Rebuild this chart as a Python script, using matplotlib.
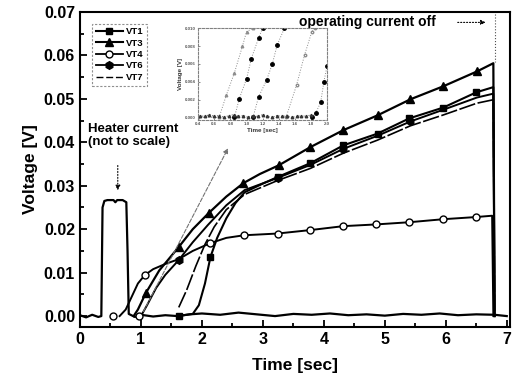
import matplotlib
matplotlib.use("Agg")
import matplotlib.pyplot as plt
from matplotlib.lines import Line2D

plt.rcParams["font.family"] = ["Liberation Sans", "DejaVu Sans"]
plt.rcParams["font.weight"] = "bold"

# ---- heater pulse + baseline trace ----
heater_t = [0.0, 0.1, 0.2, 0.3, 0.35, 0.37, 0.40, 0.45, 0.55, 0.58, 0.61, 0.70, 0.76, 0.78,
            0.80, 0.9, 1.0, 1.2, 1.4, 1.6, 1.8, 2.0, 2.3, 2.6, 2.9, 3.2, 3.5, 3.8, 4.1,
            4.4, 4.7, 5.0, 5.3, 5.6, 5.9, 6.2, 6.5, 6.8, 7.0]
heater_v = [0.0002, -0.0003, 0.0003, -0.0002, 0.0, 0.025, 0.0265, 0.0267, 0.0267, 0.0262,
            0.0267, 0.0267, 0.0262, 0.015, 0.0005, -0.0002, 0.0003, -0.0001, 0.0002, 0.0,
            0.0004, 0.0006, 0.0003, 0.0008, 0.0004, 0.0, 0.0005, 0.0003, 0.0006, 0.0002,
            0.0004, 0.0001, 0.0005, 0.0003, 0.0006, 0.0002, 0.0004, 0.0003, 0.0]

# ---- thermocouple traces (line points) ----
vt3_t = [0.88, 0.95, 1.08, 1.3, 1.62, 1.85, 2.11, 2.4, 2.68, 2.95, 3.26, 3.78, 4.32, 4.88,
         5.42, 5.96, 6.51, 6.78, 6.80]
vt3_v = [0.0, 0.0015, 0.0053, 0.0105, 0.0159, 0.0200, 0.0237, 0.0275, 0.0306, 0.0327,
         0.0347, 0.0389, 0.0428, 0.0462, 0.0499, 0.0529, 0.0563, 0.0582, 0.0]
vt3_mt = [1.08, 1.62, 2.11, 2.68, 3.26, 3.78, 4.32, 4.88, 5.42, 5.96, 6.51]
vt3_mv = [0.0053, 0.0159, 0.0237, 0.0306, 0.0347, 0.0389, 0.0428, 0.0462, 0.0499, 0.0529, 0.0563]

vt4_t = [0.65, 0.75, 0.85, 0.95, 1.06, 1.2, 1.4, 1.62, 1.85, 2.14, 2.4, 2.69, 3.24, 3.78,
         4.32, 4.86, 5.40, 5.96, 6.50, 6.76, 6.78]
vt4_v = [0.0, 0.0015, 0.0045, 0.0075, 0.0094, 0.0108, 0.0120, 0.0131, 0.0150, 0.0168,
         0.0180, 0.0186, 0.0190, 0.0198, 0.0207, 0.0211, 0.0216, 0.0223, 0.0228, 0.0231, 0.0]
vt4_mt = [0.54, 0.97, 1.06, 2.14, 2.69, 3.24, 3.78, 4.32, 4.86, 5.40, 5.96, 6.50]
vt4_mv = [0.0, 0.0, 0.0094, 0.0168, 0.0186, 0.0190, 0.0198, 0.0207, 0.0211, 0.0216, 0.0223, 0.0228]

vt6_t = [1.0, 1.1, 1.25, 1.4, 1.62, 1.85, 2.1, 2.4, 2.7, 3.24, 3.78, 4.32, 4.88, 5.42,
         5.96, 6.51, 6.78, 6.80]
vt6_v = [0.0, 0.0025, 0.0065, 0.0095, 0.0129, 0.0170, 0.0210, 0.0255, 0.0290, 0.0318,
         0.0348, 0.0385, 0.0415, 0.0448, 0.0475, 0.0503, 0.0512, 0.0]
vt6_mt = [1.62, 3.24, 4.32, 5.42]
vt6_mv = [0.0129, 0.0318, 0.0385, 0.0448]

vt1_t = [1.6, 1.85, 1.95, 2.05, 2.14, 2.25, 2.4, 2.55, 2.7, 3.0, 3.24, 3.78, 4.32, 4.88,
         5.40, 5.96, 6.50, 6.78, 6.80]
vt1_v = [0.0, 0.0005, 0.0025, 0.0075, 0.0136, 0.0180, 0.0225, 0.0260, 0.0285, 0.0305,
         0.0320, 0.0352, 0.0393, 0.0420, 0.0455, 0.0480, 0.0515, 0.0527, 0.0]
vt1_mt = [1.62, 2.14, 3.24, 3.78, 4.32, 4.88, 5.40, 5.96, 6.50]
vt1_mv = [0.0, 0.0136, 0.0320, 0.0352, 0.0393, 0.0420, 0.0455, 0.0480, 0.0515]

vt7_t = [1.62, 1.75, 1.9, 2.05, 2.2, 2.4, 2.7, 3.24, 3.78, 4.32, 4.88, 5.42, 5.96, 6.51,
         6.78, 6.80]
vt7_v = [0.002, 0.006, 0.0115, 0.0165, 0.0205, 0.0245, 0.0280, 0.0312, 0.0340, 0.0375,
         0.0405, 0.0438, 0.0463, 0.0490, 0.0498, 0.0]

# ---- inset (zoom of the onset, 0.4-2.0 s) ----
in_a_t = [0.40, 0.66, 0.75, 0.85, 0.95, 1.00, 1.08]
in_a_v = [0.0, 0.0, 0.0025, 0.0050, 0.0080, 0.0096, 0.0100]
in_b_t = [0.85, 0.91, 1.00, 1.06, 1.15, 1.20]
in_b_v = [0.0, 0.0021, 0.0043, 0.0066, 0.0089, 0.0100]
in_c_t = [1.08, 1.15, 1.25, 1.32, 1.38, 1.47]
in_c_v = [0.0, 0.0023, 0.0042, 0.0060, 0.0081, 0.0100]
in_d_t = [1.49, 1.62, 1.72, 1.81, 1.85]
in_d_v = [0.0, 0.0036, 0.0070, 0.0096, 0.0100]
in_e_t = [1.81, 1.86, 1.92, 1.96, 2.00]
in_e_v = [0.0, 0.0005, 0.0017, 0.0040, 0.0058]
in_base_t = [0.42, 0.48, 0.54, 0.60, 0.66, 0.72, 0.78, 0.84, 0.90, 0.96, 1.02, 1.08, 1.14,
             1.20, 1.26, 1.32, 1.38, 1.44, 1.50, 1.56, 1.62, 1.68, 1.74, 1.80]
in_base_v = [0.0002, 0.0001, 0.0003, 0.0001, 0.0002, 0.0, 0.0002, 0.0003, 0.0001, 0.0002,
             0.0, 0.0002, 0.0001, 0.0003, 0.0001, 0.0, 0.0002, 0.0001, 0.0002, 0.0, 0.0001,
             0.0002, 0.0001, 0.0003]

fig = plt.figure(figsize=(5.16, 3.86), dpi=100)
ax = fig.add_axes([0.155, 0.153, 0.833, 0.816])

ax.plot(heater_t, heater_v, color="black", lw=1.6)
ax.plot(vt4_t, vt4_v, color="black", lw=1.4)
ax.plot(vt7_t, vt7_v, color="black", lw=1.2, dashes=(10, 1.5))
ax.plot(vt6_t, vt6_v, color="black", lw=1.4)
ax.plot(vt1_t, vt1_v, color="black", lw=1.5)
ax.plot(vt3_t, vt3_v, color="black", lw=1.6)

ax.plot(vt4_mt, vt4_mv, ls="none", marker="o", ms=5, mfc="white", mec="black", mew=1)
ax.plot(vt6_mt, vt6_mv, ls="none", marker="h", ms=5.5, color="black")
ax.plot(vt1_mt, vt1_mv, ls="none", marker="s", ms=5, color="black")
ax.plot(vt3_mt, vt3_mv, ls="none", marker="^", ms=6, color="black")

ax.set_xlim(0, 7.05)
ax.set_ylim(-0.0025, 0.07)
ax.set_xticks(range(8))
ax.set_yticks([0.0, 0.01, 0.02, 0.03, 0.04, 0.05, 0.06, 0.07])
ax.set_yticklabels(["0.00", "0.01", "0.02", "0.03", "0.04", "0.05", "0.06", "0.07"])
ax.set_xticks([0.5, 1.5, 2.5, 3.5, 4.5, 5.5, 6.5], minor=True)
ax.set_yticks([0.005, 0.015, 0.025, 0.035, 0.045, 0.055, 0.065], minor=True)
ax.tick_params(which="both", direction="in", labelsize=11.5, width=1.3)
ax.tick_params(which="major", length=5)
ax.tick_params(which="minor", length=3)
for s in ax.spines.values():
    s.set_linewidth(1.5)
ax.set_xlabel("Time [sec]", fontsize=12.5, fontweight="bold", labelpad=8)
ax.set_ylabel("Voltage [V]", fontsize=12.5, fontweight="bold", labelpad=4)

handles = [
    Line2D([], [], color="black", lw=1.5, marker="s", ms=5),
    Line2D([], [], color="black", lw=1.5, marker="^", ms=5.5),
    Line2D([], [], color="black", lw=1.3, marker="o", ms=5, mfc="white"),
    Line2D([], [], color="black", lw=1.3, marker="h", ms=5.5),
    Line2D([], [], color="black", lw=1.0, dashes=(5, 2)),
]
leg = ax.legend(handles, ["VT1", "VT3", "VT4", "VT6", "VT7"], loc="upper left",
                bbox_to_anchor=(0.018, 0.978), fontsize=6.8, handlelength=2.8,
                handletextpad=0.3, labelspacing=0.25, borderpad=0.4, fancybox=False)
leg.get_frame().set_edgecolor("0.45")
leg.get_frame().set_linestyle((0, (2, 1.5)))
leg.get_frame().set_linewidth(0.8)

# annotations
ax.text(0.13, 0.0445, "Heater current\n(not to scale)", fontsize=9.5, fontweight="bold",
        va="top", ha="left", linespacing=1.15)
ax.annotate("", xy=(0.62, 0.0283), xytext=(0.62, 0.0353),
            arrowprops=dict(arrowstyle="-|>", color="black", lw=0.8, ls=":",
                            mutation_scale=7))
ax.text(4.72, 0.0676, "operating current off", fontsize=10, fontweight="bold",
        va="center", ha="center")
ax.annotate("", xy=(6.7, 0.0676), xytext=(6.15, 0.0676),
            arrowprops=dict(arrowstyle="-|>", color="black", lw=0.8, ls=":",
                            mutation_scale=7))
ax.plot([6.8, 6.8], [0.0695, 0.0585], color="0.3", lw=0.8, ls=":")
ax.annotate("", xy=(2.45, 0.0392), xytext=(1.02, 0.0005),
            arrowprops=dict(arrowstyle="-|>", color="0.45", lw=0.8, ls="--",
                            mutation_scale=7))

# inset
axi = fig.add_axes([0.384, 0.689, 0.25, 0.238])
axi.set_facecolor("white")
gray = "0.55"
axi.plot(in_a_t, in_a_v, color=gray, lw=0.7, ls=":", marker="^", ms=1.8, mfc="white", mec=gray)
axi.plot(in_d_t, in_d_v, color=gray, lw=0.7, ls=":", marker="o", ms=1.8, mfc="white", mec=gray)
axi.plot(in_b_t, in_b_v, color=gray, lw=0.7, ls=":", marker="o", ms=2.5, mfc="black", mec="black")
axi.plot(in_c_t, in_c_v, color=gray, lw=0.7, ls=":", marker="o", ms=2.5, mfc="black", mec="black")
axi.plot(in_e_t, in_e_v, color=gray, lw=0.7, ls=":", marker="o", ms=2.5, mfc="black", mec="black")
axi.plot(in_base_t, in_base_v, color="0.3", lw=0.7, ls=":", marker="^", ms=1.8,
         mfc="white", mec="0.2")
axi.set_xlim(0.4, 2.0)
axi.set_ylim(-0.0003, 0.010)
axi.set_xticks([0.4, 0.6, 0.8, 1.0, 1.2, 1.4, 1.6, 1.8, 2.0])
axi.set_yticks([0.0, 0.002, 0.004, 0.006, 0.008, 0.010])
axi.set_yticklabels(["0.000", "0.002", "0.004", "0.006", "0.008", "0.010"])
axi.tick_params(labelsize=3.2, length=1.5, width=0.5, direction="in", pad=1.5,
                colors="0.35")
for s in axi.spines.values():
    s.set_linewidth(0.8)
    s.set_linestyle((0, (2, 1.5)))
    s.set_edgecolor("0.5")
axi.set_xlabel("Time [sec]", fontsize=4.5, fontweight="bold", labelpad=1.5, color="0.2")
axi.set_ylabel("Voltage [V]", fontsize=4.5, fontweight="bold", labelpad=1.5, color="0.2")

fig.savefig("out.png", dpi=100)
